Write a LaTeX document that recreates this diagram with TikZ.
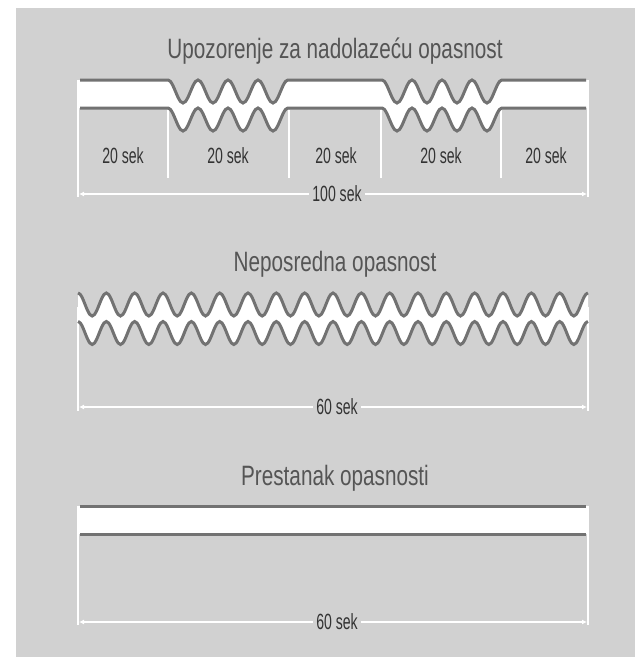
\documentclass[tikz,border=0pt]{standalone}
\usepackage{fontspec}
\newfontfamily\titlefont[FakeStretch=0.74]{Liberation Sans}
\newfontfamily\labelfont[FakeStretch=0.64]{Liberation Sans}
\usetikzlibrary{arrows.meta}
\definecolor{bg}{HTML}{D1D1D1}
\definecolor{wavecol}{HTML}{727272}
\definecolor{titletxt}{HTML}{555555}
\definecolor{labtxt}{HTML}{333333}
\begin{document}
\begin{tikzpicture}[x=1pt,y=-1pt,
  bandline/.style={draw=wavecol, line width=3pt},
  dimline/.style={draw=white, line width=1.8pt},
  dimarrow/.style={draw=white, line width=1.8pt, {Latex[length=5pt,width=5pt]}-{Latex[length=5pt,width=5pt]}},
  titletext/.style={font=\titlefont\fontsize{28}{30}\selectfont, text=titletxt, inner sep=0pt, anchor=base},
  seklabel/.style={font=\labelfont\fontsize{22}{24}\selectfont, text=labtxt, inner sep=0pt, anchor=base},
  dimlabel/.style={font=\labelfont\fontsize{22}{24}\selectfont, text=labtxt, fill=bg, inner sep=3pt}
]
\useasboundingbox (0,0) rectangle (635,657);
\fill[white] (0,0) rectangle (635,657);
\fill[bg] (16,8) rectangle (635,657);

% ---------------- Section 1 ----------------
\node[titletext] (title1) at (335,58) {Upozorenje za nadolazeću opasnost};

% dimension verticals
\draw[dimline] (78,80) -- (78,197);
\draw[dimline] (588,80) -- (588,197);
\draw[dimline] (168,110) -- (168,178);
\draw[dimline] (289,110) -- (289,178);
\draw[dimline] (381,110) -- (381,178);
\draw[dimline] (501,110) -- (501,178);

% band fill
\fill[white] (78,80) -- (168,80)
  -- plot[domain=168:288,samples=49,smooth] (\x,{80+11.5*(1-cos(12*(\x-168)))})
  -- (382,80)
  -- plot[domain=382:502,samples=49,smooth] (\x,{80+11.5*(1-cos(12*(\x-382)))})
  -- (588,80) -- (588,108) -- (502,108)
  -- plot[domain=502:382,samples=49,smooth] (\x,{108+11.5*(1-cos(12*(\x-382)))})
  -- (288,108)
  -- plot[domain=288:168,samples=49,smooth] (\x,{108+11.5*(1-cos(12*(\x-168)))})
  -- (78,108) -- cycle;
% band lines
\draw[bandline] (80,80) -- (168,80)
  -- plot[domain=168:288,samples=49,smooth] (\x,{80+11.5*(1-cos(12*(\x-168)))})
  -- (382,80)
  -- plot[domain=382:502,samples=49,smooth] (\x,{80+11.5*(1-cos(12*(\x-382)))})
  -- (586,80);
\draw[bandline] (80,108) -- (168,108)
  -- plot[domain=168:288,samples=49,smooth] (\x,{108+11.5*(1-cos(12*(\x-168)))})
  -- (382,108)
  -- plot[domain=382:502,samples=49,smooth] (\x,{108+11.5*(1-cos(12*(\x-382)))})
  -- (586,108);

\node[seklabel] (s1) at (123,163) {20 sek};
\node[seklabel] (s2) at (228,163) {20 sek};
\node[seklabel] (s3) at (336,163) {20 sek};
\node[seklabel] (s4) at (441,163) {20 sek};
\node[seklabel] (s5) at (546,163) {20 sek};

\coordinate (a1L) at (79,194);
\coordinate (a1R) at (587,194);
\draw[dimarrow] (a1L) -- (a1R);
\node[dimlabel] (l100) at (337,194) {100 sek};

% ---------------- Section 2 ----------------
\node[titletext] (title2) at (335,271) {Neposredna opasnost};

\draw[dimline] (78,307) -- (78,411);
\draw[dimline] (588,307) -- (588,411);

\fill[white] plot[domain=78:588,samples=217,smooth] (\x,{293+11.5*(1-cos(12.70588*(\x-78)))})
  -- plot[domain=588:78,samples=217,smooth] (\x,{321.5+11.5*(1-cos(12.70588*(\x-78)))}) -- cycle;
\draw[bandline] plot[domain=78:588,samples=217,smooth] (\x,{293+11.5*(1-cos(12.70588*(\x-78)))});
\draw[bandline] plot[domain=78:588,samples=217,smooth] (\x,{321.5+11.5*(1-cos(12.70588*(\x-78)))});

\coordinate (a2L) at (79,407);
\coordinate (a2R) at (587,407);
\draw[dimarrow] (a2L) -- (a2R);
\node[dimlabel] (l60a) at (337,407) {60 sek};

% ---------------- Section 3 ----------------
\node[titletext] (title3) at (335,485) {Prestanak opasnosti};

\draw[dimline] (78,506) -- (78,625);
\draw[dimline] (588,506) -- (588,625);

\fill[white] (78,506) rectangle (588,534);
\draw[bandline] (80,506) -- (586,506);
\draw[bandline] (80,534) -- (586,534);

\coordinate (a3L) at (79,622);
\coordinate (a3R) at (587,622);
\draw[dimarrow] (a3L) -- (a3R);
\node[dimlabel] (l60b) at (337,622) {60 sek};
\end{tikzpicture}
\end{document}
